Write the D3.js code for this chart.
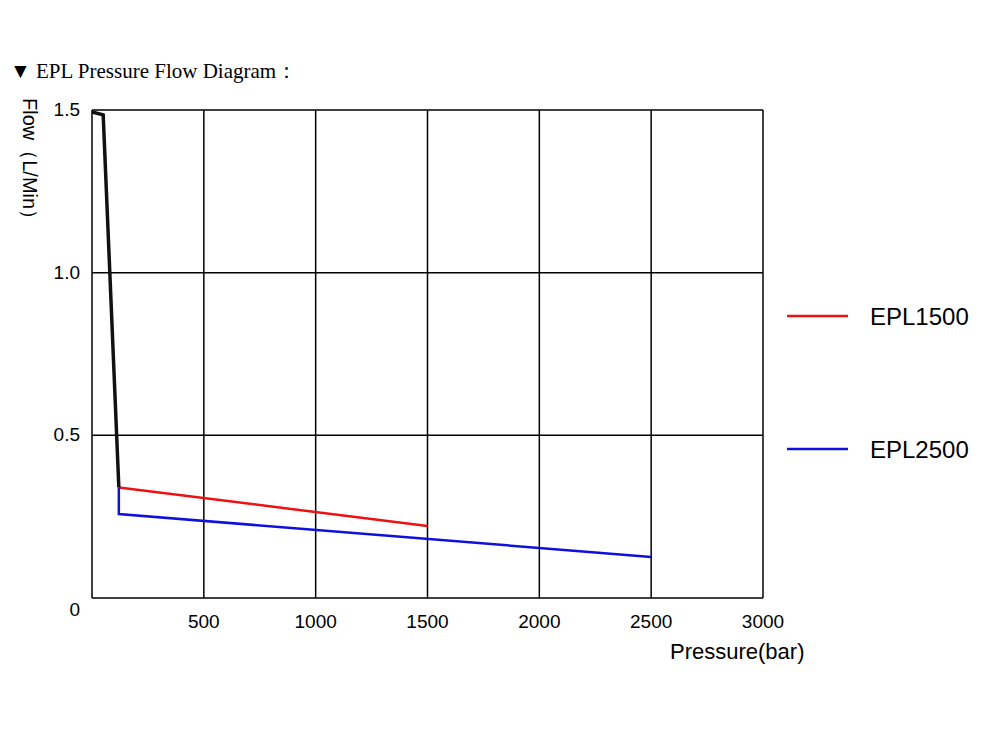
<!DOCTYPE html>
<html><head><meta charset="utf-8">
<script src="https://cdn.jsdelivr.net/npm/d3@7"></script>
<style>body{margin:0;background:#fff}</style></head>
<body><svg id="c" width="1000" height="750"></svg>
<script>
const xTicks=[500,1000,1500,2000,2500,3000];
const yTicks=[0.5,1.0,1.5];
const commonP=[0,50,120];
const commonQ=[1.494,1.485,0.34];
const epl1500P=[120,1500], epl1500Q=[0.34,0.221];
const epl2500P=[120,120,2500], epl2500Q=[0.34,0.258,0.126];
const series=[{name:"EPL1500",color:"#ee1111",p:epl1500P,q:epl1500Q},{name:"EPL2500",color:"#1010dd",p:epl2500P,q:epl2500Q}];

const svg=d3.select("#c");
const x=d3.scaleLinear().domain([0,3000]).range([92,763]);
const y=d3.scaleLinear().domain([0,1.5]).range([598,110]);
const f="Arial, Liberation Sans, sans-serif";
svg.append("text").attr("x",10).attr("y",78).attr("font-family","Liberation Serif, serif").attr("font-size",21).text("▼ EPL Pressure Flow Diagram：");
const g=svg.append("g");
xTicks.forEach(t=>g.append("line").attr("x1",x(t)).attr("x2",x(t)).attr("y1",110).attr("y2",598).attr("stroke","#000").attr("stroke-width",1.5));
yTicks.forEach(t=>g.append("line").attr("x1",92).attr("x2",763).attr("y1",y(t)).attr("y2",y(t)).attr("stroke","#000").attr("stroke-width",1.5));
g.append("line").attr("x1",92).attr("x2",92).attr("y1",110).attr("y2",598).attr("stroke","#000").attr("stroke-width",1.5);
g.append("line").attr("x1",92).attr("x2",763).attr("y1",598).attr("y2",598).attr("stroke","#000").attr("stroke-width",1.5);
xTicks.forEach(t=>svg.append("text").attr("x",x(t)).attr("y",628).attr("text-anchor","middle").attr("font-family",f).attr("font-size",19).text(t));
[0,...yTicks].forEach(t=>svg.append("text").attr("x",80).attr("y",t===0?616:y(t)+6).attr("text-anchor","end").attr("font-family",f).attr("font-size",19).text(t===0?"0":t.toFixed(1)));
svg.append("text").attr("transform","translate(23,98) rotate(90)").attr("font-family",f).attr("font-size",20).text("Flow（L/Min）");
svg.append("text").attr("x",670).attr("y",659).attr("font-family",f).attr("font-size",22).text("Pressure(bar)");
const line=d3.line().x(d=>x(d[0])).y(d=>y(d[1]));
series.forEach(s=>svg.append("path").attr("d",line(s.p.map((p,i)=>[p,s.q[i]]))).attr("fill","none").attr("stroke",s.color).attr("stroke-width",2.5));
svg.append("path").attr("d",line(commonP.map((p,i)=>[p,commonQ[i]]))).attr("fill","none").attr("stroke","#111").attr("stroke-width",3.5);
series.forEach((s,i)=>{const ly=[316,449][i];
svg.append("line").attr("x1",787).attr("x2",848).attr("y1",ly).attr("y2",ly).attr("stroke",s.color).attr("stroke-width",2.5);
svg.append("text").attr("x",870).attr("y",ly+9).attr("font-family",f).attr("font-size",24).text(s.name);});
</script></body></html>
